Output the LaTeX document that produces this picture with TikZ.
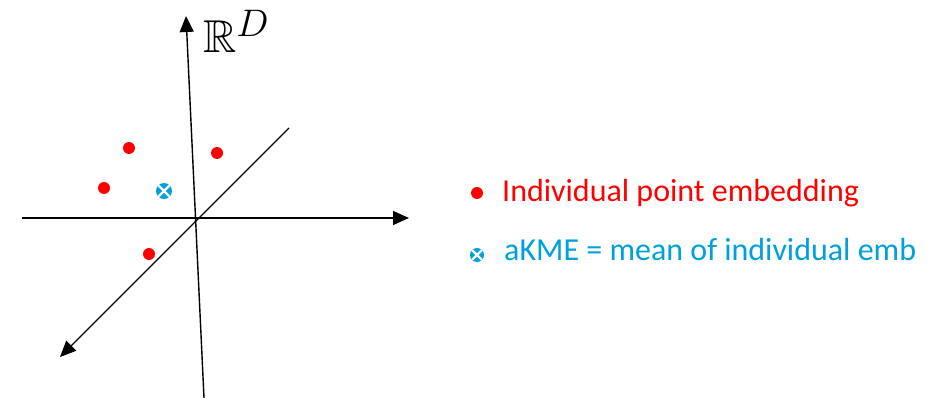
\documentclass[tikz,border=0pt]{standalone}
\usepackage{amssymb}
\usepackage{fontspec}
\setmainfont{Carlito}
\usetikzlibrary{arrows.meta}
\definecolor{ptred}{RGB}{255,0,0}
\definecolor{kmeblue}{RGB}{0,160,220}
\begin{document}
\begin{tikzpicture}[x=1pt,y=-1pt,
  axis/.style={line width=1.4pt,-{Triangle[length=16pt,width=14pt]}},
  reddot/.style={circle,fill=ptred,inner sep=0pt,minimum size=12pt},
  kmedot/.style={circle,fill=kmeblue,inner sep=0pt,minimum size=#1,
    path picture={\draw[white,line width=2.4pt]
      (path picture bounding box.north west)--(path picture bounding box.south east)
      (path picture bounding box.north east)--(path picture bounding box.south west);}},
  kmedot/.default=16pt,
  legtext/.style={anchor=base west,inner sep=0pt,font=\fontsize{32}{36}\selectfont}]
\useasboundingbox (0,0) rectangle (945,398);
\coordinate (vb) at (204,398);
\coordinate (vt) at (186,16);
\coordinate (hl) at (22,218);
\coordinate (hr) at (409,218);
\coordinate (dt) at (289,128);
\coordinate (db) at (60,357);
\draw[axis] (vb) -- (vt);
\draw[axis] (hl) -- (hr);
\draw[axis] (dt) -- (db);
\node[anchor=base west,inner sep=0pt,font=\Huge] (rd) at (203,53) {\scalebox{1.85}{$\mathbb{R}^D$}};
\node[reddot] (p1) at (129,148) {};
\node[reddot] (p2) at (217,153) {};
\node[reddot] (p3) at (104,188) {};
\node[reddot] (p4) at (149,254) {};
\node[kmedot] (m) at (164,191) {};
\node[reddot] (l1) at (477,193) {};
\node[legtext,text=ptred] (t1) at (502,202) {Individual point embedding};
\node[kmedot=14pt] (l2) at (477,255) {};
\node[legtext,text=kmeblue] (t2) at (504,260) {aKME = mean of individual emb};
\end{tikzpicture}
\end{document}
